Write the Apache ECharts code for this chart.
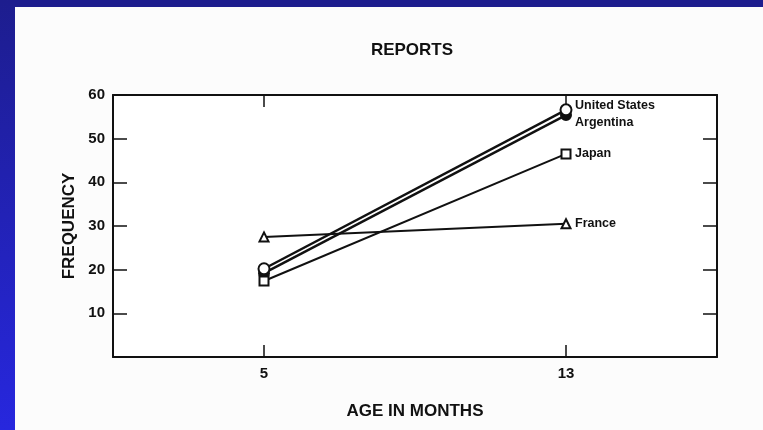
<!DOCTYPE html>
<html>
<head>
<meta charset="utf-8">
<script src="https://cdn.jsdelivr.net/npm/echarts@6/dist/echarts.min.js"></script>
<style>
html,body{margin:0;padding:0;background:#fff;}
#c{width:763px;height:430px;}
</style>
</head>
<body>
<div id="c"></div>
<script>
// ---- data ----
const ages = [5, 13];
const xTickValues = [5, 13];
const yTickLabels = [10, 20, 30, 40, 50, 60];
const unitedStates = [20.2, 56.6];
const argentina = [19.2, 55.4];
const japan = [17.4, 46.5];
const france = [27.5, 30.5];

const chartTitle = 'REPORTS';
const xName = 'AGE IN MONTHS';
const yName = 'FREQUENCY';

const font = "'Liberation Sans', Arial, sans-serif";
const ink = '#111111';

function pts(vals) { return ages.map((a, i) => [a, vals[i]]); }

const chart = echarts.init(document.getElementById('c'));

function lineSeries(name, vals, symbol, size, filled, lw, labelOffset, z, xIdx) {
  return {
    name: name,
    type: 'line',
    xAxisIndex: xIdx,
    yAxisIndex: 0,
    data: pts(vals),
    symbol: symbol,
    symbolSize: size,
    showAllSymbol: true,
    z: z,
    lineStyle: { color: ink, width: lw },
    itemStyle: { color: filled ? ink : '#fff', borderColor: ink, borderWidth: 2 },
    endLabel: {
      show: true,
      formatter: name,
      distance: 9,
      offset: labelOffset,
      color: ink,
      fontFamily: font,
      fontWeight: 'bold',
      fontSize: 12.5
    },
    emphasis: { disabled: true },
    animation: false
  };
}

const xAxisBase = {
  type: 'value', min: 1, max: 17,
  axisLine: { show: true, onZero: false, lineStyle: { color: ink, width: 2 } },
  axisTick: { show: true, inside: true, length: 12, customValues: xTickValues, lineStyle: { color: ink, width: 1.5 } },
  splitLine: { show: false }
};

const option = {
  backgroundColor: '#fcfcfc',
  animation: false,
  title: {
    text: chartTitle,
    left: 407,
    textAlign: 'center',
    top: 37,
    textStyle: { fontFamily: font, fontWeight: 'bold', fontSize: 17, color: ink }
  },
  graphic: [
    { type: 'rect', z: 100, shape: { x: 0, y: 0, width: 763, height: 7 }, style: { fill: '#1d1d8e' } },
    { type: 'rect', z: 100, shape: { x: 0, y: 0, width: 15, height: 430 },
      style: { fill: new echarts.graphic.LinearGradient(0, 0, 0, 1, [
        { offset: 0, color: '#1d1d8e' }, { offset: 1, color: '#2727de' }]) } }
  ],
  grid: { left: 113, top: 95, right: 46, bottom: 73, show: true, backgroundColor: '#ffffff', borderWidth: 0 },
  xAxis: [
    Object.assign({}, xAxisBase, {
      position: 'bottom',
      axisLabel: { show: true, customValues: xTickValues, margin: 9, color: ink, fontFamily: font, fontWeight: 'bold', fontSize: 15 },
      name: xName, nameLocation: 'middle', nameGap: 46,
      nameTextStyle: { fontFamily: font, fontWeight: 'bold', fontSize: 17, color: ink }
    }),
    Object.assign({}, xAxisBase, {
      position: 'top',
      axisLabel: { show: true, customValues: xTickValues, color: 'rgba(0,0,0,0)', fontSize: 10 }
    })
  ],
  yAxis: [
    {
      type: 'value', min: 0, max: 60, interval: 10, position: 'left',
      axisLine: { show: true, onZero: false, lineStyle: { color: ink, width: 2 } },
      axisTick: { show: true, inside: true, length: 14, lineStyle: { color: ink, width: 1.5 } },
      axisLabel: { show: true, customValues: yTickLabels, margin: 8, color: ink, fontFamily: font, fontWeight: 'bold', fontSize: 15 },
      splitLine: { show: false },
      name: yName, nameLocation: 'middle', nameGap: 34,
      nameTextStyle: { fontFamily: font, fontWeight: 'bold', fontSize: 17, color: ink }
    },
    {
      type: 'value', min: 0, max: 60, interval: 10, position: 'right',
      axisLine: { show: true, onZero: false, lineStyle: { color: ink, width: 2 } },
      axisTick: { show: true, inside: true, length: 14, lineStyle: { color: ink, width: 1.5 } },
      axisLabel: { show: false },
      splitLine: { show: false }
    }
  ],
  series: [
    lineSeries('Argentina', argentina, 'circle', 10, true, 2.4, [0, 7], 3, 0),
    lineSeries('United States', unitedStates, 'circle', 11, false, 2.4, [0, -4], 4, 0),
    lineSeries('Japan', japan, 'rect', 9, false, 2, [0, 0], 3, 1),
    lineSeries('France', france, 'triangle', 9, false, 2, [0, 0], 3, 1)
  ]
};
chart.setOption(option);
</script>
</body>
</html>
